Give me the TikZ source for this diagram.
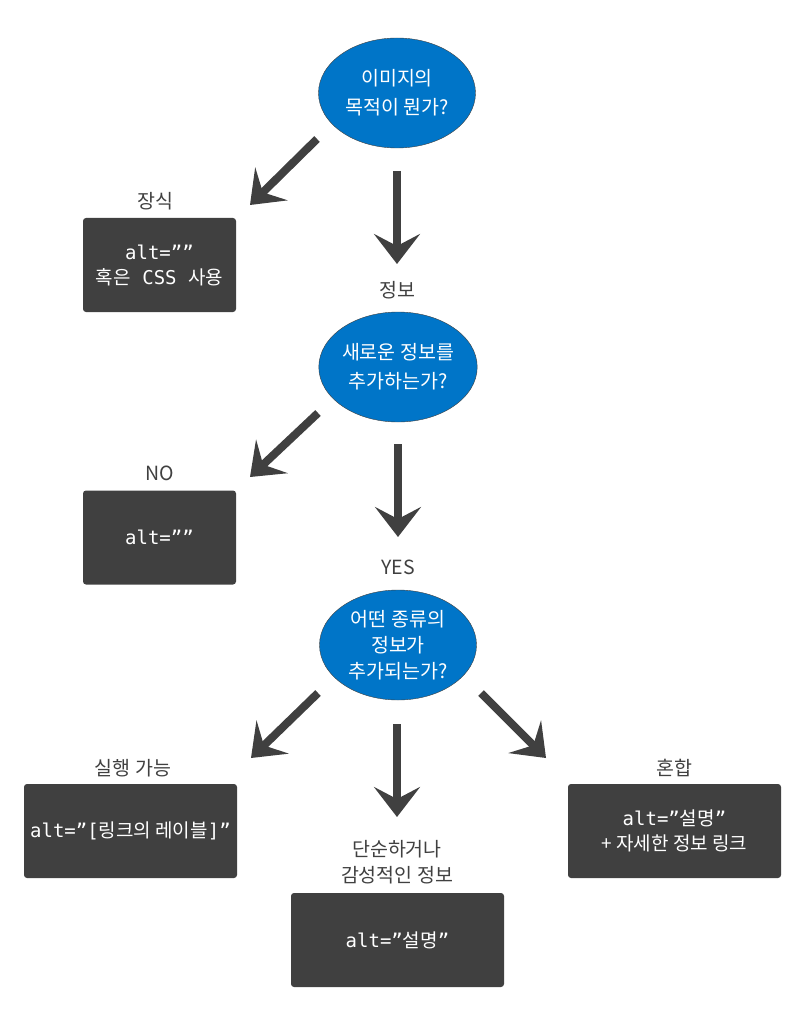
\documentclass[tikz,border=0pt]{standalone}
\usepackage{fontspec}
\newfontfamily\kr{Noto Sans CJK KR}
\newfontfamily\mono{DejaVu Sans Mono}
\usetikzlibrary{shapes.geometric,arrows.meta}
\definecolor{qblue}{HTML}{0075C8}
\definecolor{dark}{HTML}{404040}
\begin{document}
\begin{tikzpicture}[
    x=1pt, y=-1pt,
    question/.style={ellipse,draw=dark,fill=qblue,text=white,minimum width=157pt,minimum height=110pt,inner sep=0pt,align=center,font=\kr\fontsize{19.5}{29}\selectfont},
    answer/.style={rectangle,rounded corners=3pt,fill=dark,text=white,minimum width=153pt,minimum height=94pt,align=center,font=\mono\fontsize{19}{25}\selectfont},
    tag/.style={text=dark,align=center,font=\kr\fontsize{19.5}{26}\selectfont},
    arrow/.style={draw=dark,line width=8pt,-{Stealth[length=30pt,width=46pt,inset=12pt]}}
  ]
  \useasboundingbox (0,0) rectangle (800,1024);
  \node[question] (q1) at (397,93) {이미지의\\목적이 뭔가?};
  \node[tag] (deco) at (155,201) {장식};
  \node[answer] (a1) at (159.5,265) {alt=””\\{\kr 혹은} CSS {\kr 사용}};
  \node[tag] (info) at (397,290) {정보};
  \node[question] (q2) at (398,367) {새로운 정보를\\추가하는가?};
  \node[tag] (no) at (160,473) {NO};
  \node[answer] (a2) at (159.5,537.5) {alt=””};
  \node[tag] (yes) at (398,567) {YES};
  \node[question,font=\kr\fontsize{19.5}{26}\selectfont] (q3) at (398,645) {어떤 종류의\\정보가\\추가되는가?};
  \node[tag] (act) at (133,768) {실행 가능};
  \node[answer,minimum width=213pt] (a3) at (130.5,831) {alt=”[{\kr 링크의 레이블}]”};
  \node[tag] (mix) at (674,768) {혼합};
  \node[answer,minimum width=213pt] (a5) at (674.5,831) {alt=”{\kr 설명}”\\{\kr + 자세한 정보 링크}};
  \node[tag] (simple) at (397,862) {단순하거나\\감성적인 정보};
  \node[answer,minimum width=213pt] (a4) at (397.5,940) {alt=”{\kr 설명}”};

  \coordinate (s1) at (317,139); \coordinate (e1) at (250,205);
  \coordinate (s2) at (397,171); \coordinate (e2) at (397,264);
  \coordinate (s3) at (318,413); \coordinate (e3) at (250,477);
  \coordinate (s4) at (398,444); \coordinate (e4) at (398,537);
  \coordinate (s5) at (318,693); \coordinate (e5) at (251,758);
  \coordinate (s6) at (397,724); \coordinate (e6) at (397,817);
  \coordinate (s7) at (481,693); \coordinate (e7) at (546,758);
  \foreach \i in {1,...,7}
    \draw[arrow] (s\i) -- (e\i);
\end{tikzpicture}
\end{document}
